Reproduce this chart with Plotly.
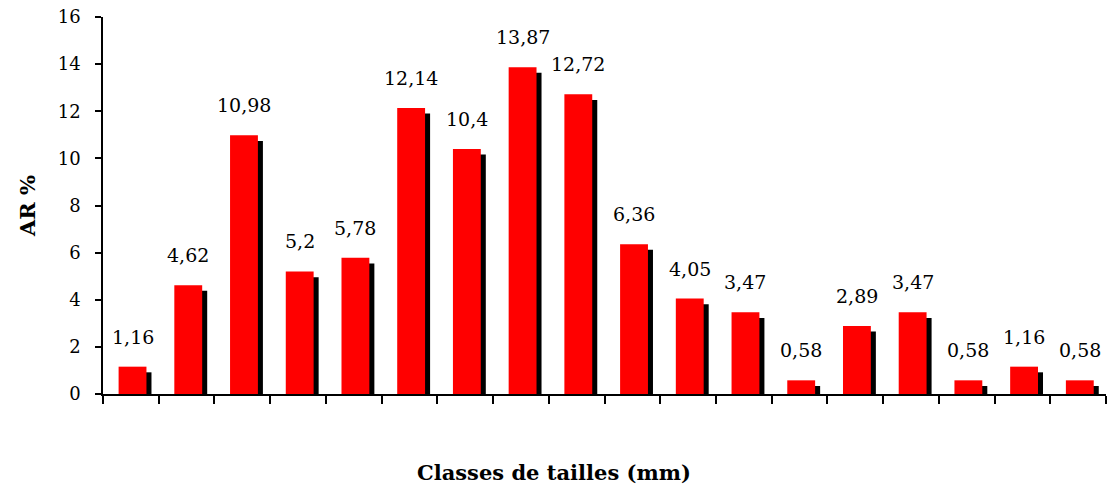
import plotly.graph_objects as go

# Size classes (18 consecutive classes) and their relative abundance AR (%)
classes = list(range(18))
ar_values = [1.16, 4.62, 10.98, 5.2, 5.78, 12.14, 10.4, 13.87, 12.72,
             6.36, 4.05, 3.47, 0.58, 2.89, 3.47, 0.58, 1.16, 0.58]
y_ticks = [0, 2, 4, 6, 8, 10, 12, 14, 16]

bar_w = 0.5          # bar width in class units
shadow_dx = 0.09     # shadow shift to the right (class units)
shadow_dy = 0.24     # shadow drop (AR units)

fig = go.Figure()

# black drop shadow behind each bar
fig.add_trace(go.Bar(
    x=classes, y=ar_values, base=[-shadow_dy] * len(classes),
    width=bar_w, offset=-bar_w / 2 + shadow_dx + 0.03,
    marker=dict(color="black", line=dict(width=0)),
    hoverinfo="skip", showlegend=False,
))

# red bars
fig.add_trace(go.Bar(
    x=classes, y=ar_values,
    width=bar_w, offset=-bar_w / 2 + 0.03,
    marker=dict(color="#FF0000", line=dict(width=0)),
    showlegend=False,
))

label_font = dict(family="DejaVu Serif", size=19, color="black")
for c, v in zip(classes, ar_values):
    fig.add_annotation(
        x=c + 0.03, y=v, text=f"{v:g}".replace(".", ","),
        showarrow=False, yanchor="middle", xanchor="center",
        yshift=30, font=label_font,
    )

# x-axis title, set slightly left of the plot centre
fig.add_annotation(
    xref="paper", yref="paper", x=0.45, y=-0.207,
    xanchor="center", yanchor="middle", showarrow=False,
    text="<b>Classes de tailles (mm)</b>",
    font=dict(family="DejaVu Serif", size=21, color="black"),
)

fig.update_layout(
    width=1109, height=488,
    margin=dict(l=103, r=3, t=17, b=94),
    paper_bgcolor="white", plot_bgcolor="white",
    barmode="overlay",
    xaxis=dict(
        range=[-0.5, 17.5],
        tickmode="array", tickvals=[i - 0.5 for i in range(19)],
        showticklabels=False, ticks="outside", ticklen=8, tickwidth=1.5,
        tickcolor="black", showline=True, linecolor="black", linewidth=1.5,
        showgrid=False, zeroline=False,
    ),
    yaxis=dict(
        range=[0, 16], tickmode="array", tickvals=y_ticks,
        ticks="outside", ticklen=6, tickwidth=1.5, tickcolor="black",
        ticklabelstandoff=11,
        showline=True, linecolor="black", linewidth=1.5,
        showgrid=False, zeroline=False,
        tickfont=dict(family="DejaVu Serif", size=18, color="black"),
        title=dict(text="<b>AR %</b>", standoff=16,
                   font=dict(family="DejaVu Serif", size=21, color="black")),
    ),
)

fig.write_html("out.html")
